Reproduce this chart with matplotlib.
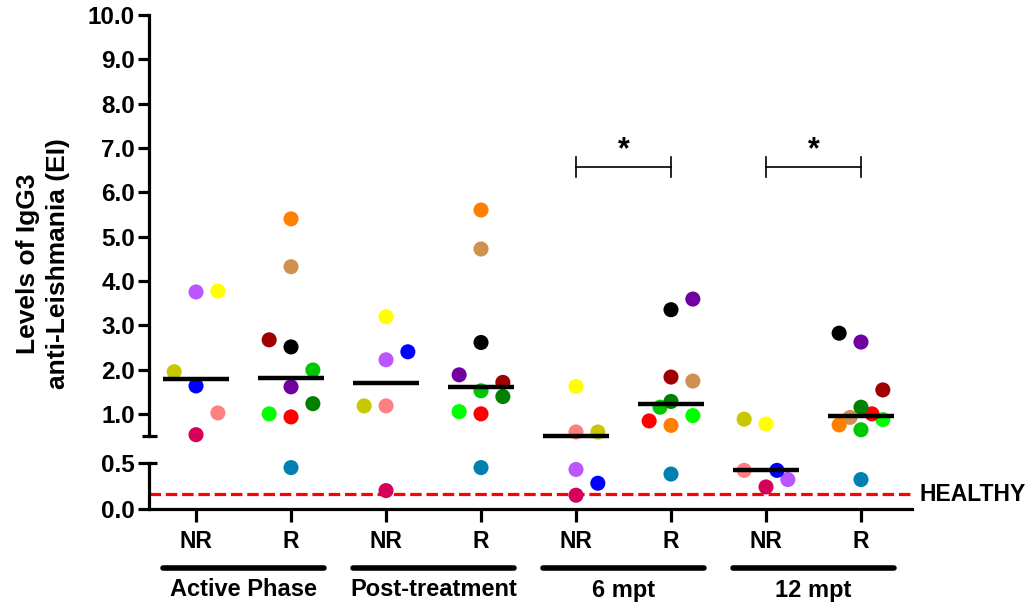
import numpy as np
import matplotlib.pyplot as plt
from matplotlib import transforms

plt.rcParams['font.family'] = ['Liberation Sans', 'DejaVu Sans']
plt.rcParams['font.weight'] = 'bold'

# ---- data -------------------------------------------------------------
groups = ['Active Phase', 'Post-treatment', '6 mpt', '12 mpt']
tick_labels = ['NR', 'R', 'NR', 'R', 'NR', 'R', 'NR', 'R']

# one colour per patient, same order in every time point
nr_colors = ['#c8c800', '#bb55ff', '#ffff00', '#0000ff', '#ff8080', '#d6005a']
r_colors = ['#d09050', '#ff8000', '#a00000', '#000000', '#00c800',
            '#7000a0', '#00ff00', '#ff0000', '#008000', '#0080b0']

nr_active = [1.95, 3.75, 3.77, 1.63, 1.02, 0.53]
r_active = [4.32, 5.40, 2.67, 2.51, 1.99, 1.61, 1.00, 0.93, 1.23, 0.45]
nr_post = [1.18, 2.22, 3.19, 2.40, 1.18, 0.20]
r_post = [4.72, 5.60, 1.71, 2.61, 1.52, 1.88, 1.05, 1.00, 1.39, 0.45]
nr_6mpt = [0.59, 0.43, 1.62, 0.28, 0.59, 0.15]
r_6mpt = [1.74, 0.74, 1.83, 3.35, 1.15, 3.59, 0.96, 0.84, 1.28, 0.38]
nr_12mpt = [0.88, 0.32, 0.77, 0.42, 0.42, 0.24]
r_12mpt = [0.92, 0.75, 1.54, 2.82, 0.64, 2.62, 0.87, 1.00, 1.15, 0.32]

healthy = 0.16
significant_pairs = [(5, 6), (7, 8)]

# horizontal lane of every dot (scatter spreading, layout only)
nr_lanes = [[-1, 0, 1, 0, 1, 0],
            [-1, 0, 0, 1, 0, 0],
            [1, 0, 0, 1, 0, 0],
            [-1, 1, 0, 0.5, -1, 0]]
r_lanes = [[0, 0, -1, 0, 1, 0, -1, 0, 1, 0],
           [0, 0, 1, 0, 0, -1, -1, 0, 1, 0],
           [1, 0, 0, 0, -0.5, 1, 1, -1, 0, 0],
           [-0.5, -1, 1, -1, 0, 0, 1, 0.5, 0, 0]]

columns = [nr_active, r_active, nr_post, r_post, nr_6mpt, r_6mpt, nr_12mpt, r_12mpt]

# ---- figure -----------------------------------------------------------
W, H = 1033, 609
fig = plt.figure(figsize=(W / 100, H / 100), dpi=100)


def px_axes(left, top, right, bottom):
    return fig.add_axes([left / W, (H - bottom) / H, (right - left) / W, (bottom - top) / H])


ax_up = px_axes(149, 15, 912, 436)
ax_lo = px_axes(149, 463, 912, 509)

xlim = (0.505, 8.537)
lw_axis = 2.3
for ax in (ax_up, ax_lo):
    ax.set_xlim(*xlim)
    ax.spines['top'].set_visible(False)
    ax.spines['right'].set_visible(False)
    ax.spines['left'].set_linewidth(lw_axis)
    ax.spines['bottom'].set_linewidth(lw_axis)
    ax.tick_params(width=lw_axis, length=8, labelsize=17.5, pad=2)

ax_up.set_ylim(0.5, 10)
ax_up.spines['bottom'].set_visible(False)
ax_up.set_xticks([])
ax_up.set_yticks(np.arange(1, 11))
ax_up.set_yticklabels(['%.1f' % v for v in np.arange(1, 11)])

ax_lo.set_ylim(0, 0.5)
ax_lo.set_yticks([0, 0.5])
ax_lo.set_yticklabels(['0.0', '0.5'])
ax_lo.set_xticks(np.arange(1, 9))
ax_lo.set_xticklabels(tick_labels, fontsize=16.5)
ax_lo.tick_params(axis='x', pad=6, length=9)

# break caps
ax_up.plot([-0.0095, 0.0105], [0.5, 0.5], color='black', lw=lw_axis,
           transform=transforms.blended_transform_factory(ax_up.transAxes, ax_up.transData),
           clip_on=False, solid_capstyle='butt')
ax_lo.plot([0, 0.0105], [0.5, 0.5], color='black', lw=lw_axis,
           transform=transforms.blended_transform_factory(ax_lo.transAxes, ax_lo.transData),
           clip_on=False, solid_capstyle='butt')

# dots and medians
lane_w = 0.23
for i, vals in enumerate(columns):
    pos = i + 1
    lanes = nr_lanes[i // 2] if i % 2 == 0 else r_lanes[i // 2]
    colors = nr_colors if i % 2 == 0 else r_colors
    for v, ln, c in zip(vals, lanes, colors):
        ax = ax_up if v >= 0.5 else ax_lo
        ax.scatter(pos + ln * lane_w, v, s=118, color=c, edgecolors='none',
                   zorder=3, clip_on=False)
    med = np.median(vals)
    ax = ax_up if med >= 0.5 else ax_lo
    ax.plot([pos - 0.35, pos + 0.35], [med, med], color='black', lw=3.2,
            zorder=4, clip_on=False, solid_capstyle='butt')

# healthy cut-off
ax_lo.plot(xlim, [healthy, healthy], color='#ff0000', lw=2.3,
           dashes=(3.6, 1.5), zorder=2, clip_on=False)
ax_lo.text(1.01, healthy, 'HEALTHY', fontsize=16.5, va='center', ha='left',
           transform=transforms.blended_transform_factory(ax_lo.transAxes, ax_lo.transData))

# significance brackets
for a, b in significant_pairs:
    y = 6.57
    ax_up.plot([a, b], [y, y], color='black', lw=1.2)
    ax_up.plot([a, a], [y - 0.23, y + 0.23], color='black', lw=1.2)
    ax_up.plot([b, b], [y - 0.23, y + 0.23], color='black', lw=1.2)
    ax_up.text((a + b) / 2, y + 0.05, '*', fontsize=22, ha='center', va='bottom')

# group bars under the axis
tr = transforms.blended_transform_factory(ax_lo.transData, fig.transFigure)
for k, name in enumerate(groups):
    c = 2 * k + 1.5
    ax_lo.plot([c - 0.85, c + 0.85], [(H - 568) / H] * 2, color='black', lw=4,
               solid_capstyle='round', transform=tr, clip_on=False)
    ax_lo.text(c, (H - 590) / H, name, fontsize=17, ha='center', va='center',
               transform=tr)

fig.text(43 / W, (H - 264) / H, 'Levels of IgG3\nanti-Leishmania (EI)',
         rotation=90, fontsize=19, ha='center', va='center',
         multialignment='center', linespacing=1.35)

fig.savefig('out.png', dpi=100)
